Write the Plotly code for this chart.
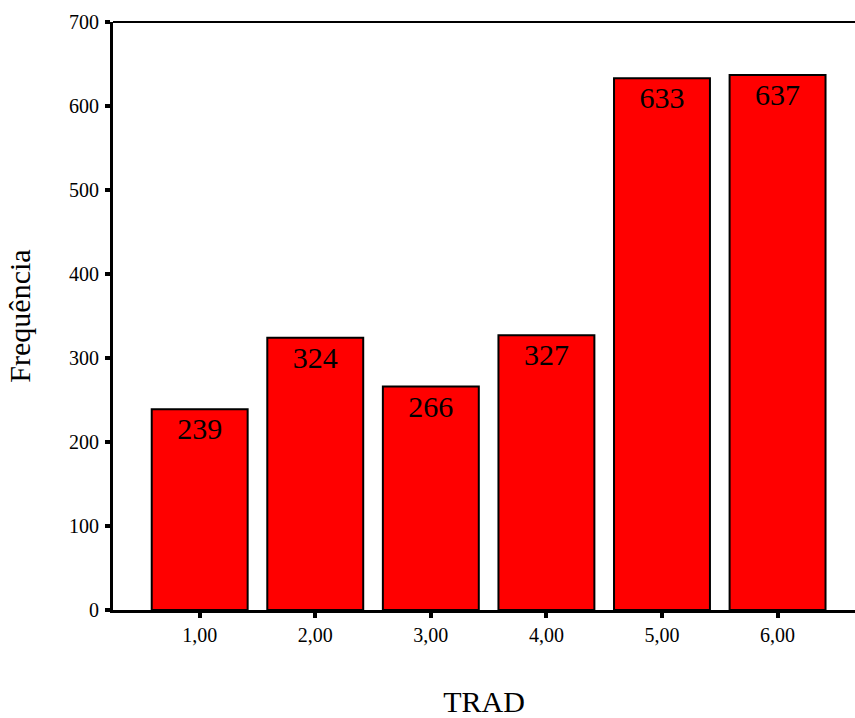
import plotly.graph_objects as go

categories = [1, 2, 3, 4, 5, 6]
tick_labels = ["1,00", "2,00", "3,00", "4,00", "5,00", "6,00"]
frequencies = [239, 324, 266, 327, 633, 637]

FONT = "Liberation Serif, Times New Roman, serif"

fig = go.Figure(
    go.Bar(
        x=categories,
        y=frequencies,
        width=0.83,
        marker=dict(color="#FF0000", line=dict(color="black", width=2)),
        text=[str(v) for v in frequencies],
        textposition="inside",
        insidetextanchor="end",
        textangle=0,
        textfont=dict(family=FONT, size=30, color="black"),
        cliponaxis=False,
    )
)

fig.update_layout(
    width=855,
    height=718,
    margin=dict(l=113, r=0, t=22, b=108, autoexpand=False),
    paper_bgcolor="white",
    plot_bgcolor="white",
    showlegend=False,
    font=dict(family=FONT, color="black"),
    uniformtext=dict(minsize=30, mode="show"),
    xaxis=dict(
        range=[0.25, 6.67],
        tickmode="array",
        tickvals=categories,
        ticktext=tick_labels,
        ticks="outside",
        ticklen=5,
        tickwidth=4,
        tickcolor="black",
        ticklabelstandoff=0,
        showline=True,
        linecolor="black",
        linewidth=3,
        showgrid=False,
        zeroline=False,
        tickfont=dict(family=FONT, size=20, color="black"),
        title=dict(text="TRAD", font=dict(family=FONT, size=30, color="black"), standoff=50),
        automargin=False,
    ),
    yaxis=dict(
        range=[0, 700],
        tickmode="array",
        tickvals=[0, 100, 200, 300, 400, 500, 600, 700],
        ticks="outside",
        ticklen=5,
        tickwidth=4,
        tickcolor="black",
        ticklabelstandoff=2,
        showline=True,
        linecolor="black",
        linewidth=3,
        showgrid=False,
        zeroline=False,
        tickfont=dict(family=FONT, size=20, color="black"),
        title=dict(text="Frequência", font=dict(family=FONT, size=30, color="black"), standoff=30),
        automargin=False,
    ),
    shapes=[
        dict(type="line", xref="paper", yref="paper", x0=0, x1=1, y0=1, y1=1,
             line=dict(color="black", width=2), layer="above"),
    ],
)

fig.write_html("out.html")
